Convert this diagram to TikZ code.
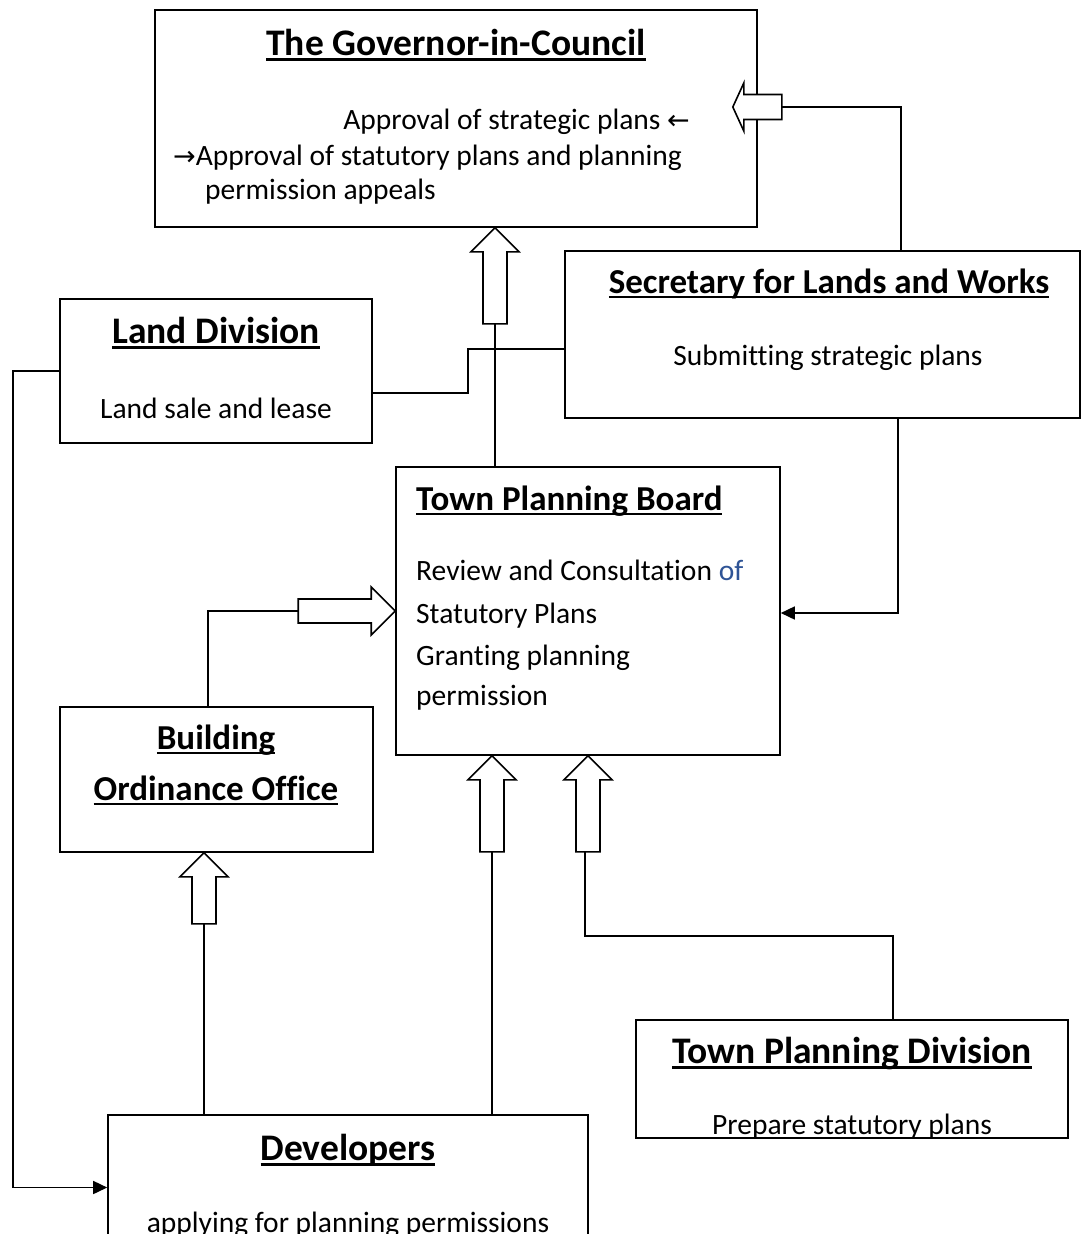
\documentclass[tikz,border=0pt]{standalone}
\usepackage{fontspec}
\setmainfont{Carlito}[Ligatures={NoCommon}]
\newfontfamily\symf{DejaVu Sans}
\usetikzlibrary{arrows.meta,calc}
\definecolor{ofblue}{HTML}{2F5496}
\newcommand\ulin[1]{\setbox0\hbox{#1}\rlap{\rule[-0.14em]{\wd0}{0.065em}}\box0}
\newcommand\blkup[2]{\draw[blk] (#1) -- ++(24,24) -- ++(-12,0) -- ++(0,{#2-24}) -- ++(-24,0) -- ++(0,{24-#2}) -- ++(-12,0) -- cycle;}
\newcommand\blkright[2]{\draw[blk] (#1) -- ++(-24,-24) -- ++(0,12) -- ++({24-#2},0) -- ++(0,24) -- ++({#2-24},0) -- ++(0,12) -- cycle;}
\newcommand\blkleft[2]{\draw[blk] (#1) -- ++(11,-24) -- ++(0,11.5) -- ++({#2-11},0) -- ++(0,25) -- ++({11-#2},0) -- ++(0,11.5) -- cycle;}
\begin{document}
\begin{tikzpicture}[x=1pt,y=-1pt,
  box/.style={draw, line width=1.6pt, inner sep=0, fill=none},
  con/.style={draw, line width=1.6pt},
  blk/.style={draw, line width=1.6pt, fill=white, line join=miter},
  tip/.style={-{Triangle[length=14pt,width=13pt]}},
  ttl/.style={inner sep=0, yshift=-8pt, font=\fontsize{35}{40}\selectfont\bfseries, text height=0.68em, text depth=0.22em},
  ttlL/.style={ttl, font=\fontsize{37.5}{42}\selectfont\bfseries},
  txt/.style={inner sep=0, yshift=-8pt, font=\fontsize{29.5}{35}\selectfont, text height=0.68em, text depth=0.22em}]
\useasboundingbox (0,0) rectangle (1082,1234);
\clip (0,0) rectangle (1082,1234);
\fill[white] (0,0) rectangle (1082,1234);

% boxes
\node[box, minimum width=602, minimum height=217] (gov) at (456,118.5) {};
\node[box, minimum width=515, minimum height=167] (sec) at (822.5,334.5) {};
\node[box, minimum width=312, minimum height=144] (land) at (216,371) {};
\node[box, minimum width=384, minimum height=288] (tpb) at (588,611) {};
\node[box, minimum width=313, minimum height=145] (boo) at (216.5,779.5) {};
\node[box, minimum width=432, minimum height=118] (tpd) at (852,1079) {};
\node[box, minimum width=480, minimum height=145] (dev) at (348,1187.5) {};

% texts
\node[ttlL] (govt) at (456,45) {\ulin{The Governor-in-Council}};
\node[txt, anchor=east] (gov1) at (690,119) {Approval of strategic plans {\symf\fontsize{27}{30}\selectfont ←}};
\node[txt, anchor=west] (gov2) at (173,155) {{\symf\fontsize{27}{30}\selectfont →}Approval of statutory plans and planning};
\node[txt, anchor=west] (gov3) at (205,189) {permission appeals};

\node[ttl] (sect) at (829,283) {\ulin{Secretary for Lands and Works}};
\node[txt] (sec1) at (828,355) {Submitting strategic plans};

\node[ttlL] (landt) at (216,333) {\ulin{Land Division}};
\node[txt] (land1) at (216,408) {Land sale and lease};

\node[ttl, anchor=west] (tpbt) at (416,500) {\ulin{Town Planning Board}};
\node[txt, anchor=west] (tpb1) at (416,570) {Review and Consultation \textcolor{ofblue}{of}};
\node[txt, anchor=west] (tpb2) at (416,613) {Statutory Plans};
\node[txt, anchor=west] (tpb3) at (416,655) {Granting planning};
\node[txt, anchor=west] (tpb4) at (416,695) {permission};

\node[ttl] (boot1) at (216,739) {\ulin{Building}};
\node[ttl] (boot2) at (216,790) {\ulin{Ordinance Office}};

\node[ttlL] (tpdt) at (852,1053) {\ulin{Town Planning Division}};
\node[txt] (tpd1) at (852,1124) {Prepare statutory plans};

\node[ttlL] (devt) at (348,1150) {\ulin{Developers}};
\node[txt] (dev1) at (348,1222) {applying for planning permissions};

% connectors
\coordinate (a1) at (781,107);
\draw[con] (sec.north -| 901,0) |- (a1);
\blkleft{$(gov.east)+(-25,-11.5)$}{49}

\coordinate (a2) at (495,323);
\draw[con] (tpb.north -| a2) -- (a2);
\blkup{gov.south -| a2}{96}

\draw[con] (land.east |- 0,393) -| (468,349) -- (sec.west |- 0,349);

\draw[con,tip] (land.west) -- (13,371) |- (dev.west);

\draw[con,tip] (sec.south -| 898,0) |- (tpb.east |- 0,613);

\coordinate (a3) at (300,611);
\draw[con] (boo.north -| 208,0) |- (a3);
\blkright{tpb.west}{97}

\coordinate (a4) at (204,923);
\draw[con] (dev.north -| a4) -- (a4);
\blkup{boo.south -| a4}{71}

\coordinate (a5) at (492,851);
\draw[con] (dev.north -| a5) -- (a5);
\blkup{tpb.south -| a5}{96}

\coordinate (a6) at (588,851);
\draw[con] (tpd.north -| 893,0) |- (585,936) -- (585,851);
\blkup{tpb.south -| a6}{96}
\end{tikzpicture}
\end{document}
